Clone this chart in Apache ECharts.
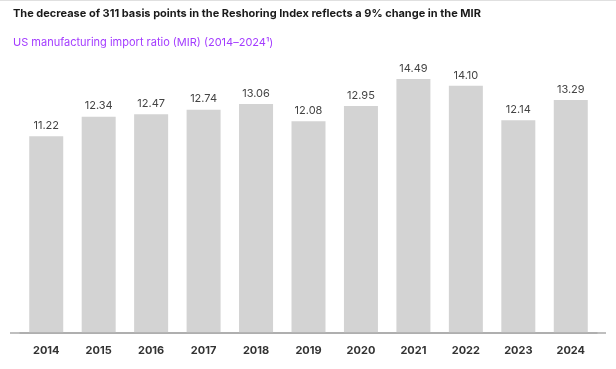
<!DOCTYPE html>
<html><head><meta charset="utf-8">
<script src="https://cdn.jsdelivr.net/npm/echarts@6/dist/echarts.min.js"></script>
<style>html,body{margin:0;padding:0;background:#fff}#c{width:616px;height:369px}</style>
</head><body><div id="c"></div>
<script>
const categories = ['2014','2015','2016','2017','2018','2019','2020','2021','2022','2023','2024'];
const mirValues = [11.22, 12.34, 12.47, 12.74, 13.06, 12.08, 12.95, 14.49, 14.10, 12.14, 13.29];
const titleText = 'The decrease of 311 basis points in the Reshoring Index reflects a 9% change in the MIR';
const subtitleText = 'US manufacturing import ratio (MIR) (2014\u20132024\u00b9)';

const chart = echarts.init(document.getElementById('c'), null, {renderer: 'canvas'});
chart.setOption({
  animation: false,
  backgroundColor: '#fff',
  title: [
    {text: titleText, left: 8, top: 3, textStyle: {fontFamily: 'Inter', fontSize: 11, fontWeight: 'bold', color: '#1a1a1a', letterSpacing: -0.65}},
    {text: subtitleText, left: 8, top: 32, textStyle: {fontFamily: 'Inter', fontSize: 11, fontWeight: 'normal', color: '#a33bff', letterSpacing: -0.5}}
  ],
  graphic: [
    {type: 'line', shape: {x1: 0, y1: 0.5, x2: 616, y2: 0.5}, style: {stroke: '#e0e0e0', lineWidth: 1}},
    {type: 'line', shape: {x1: 10, y1: 333, x2: 606, y2: 333}, style: {stroke: '#aaaaaa', lineWidth: 1.5}, z: 10}
  ],
  grid: {left: 20, right: 19, top: 70, bottom: 36},
  xAxis: {
    type: 'category', data: categories,
    axisLine: {show: true, lineStyle: {color: '#aaaaaa', width: 1.5}},
    axisTick: {show: false},
    axisLabel: {fontFamily: 'Inter', fontSize: 11, fontWeight: 'bold', color: '#333', margin: 12}
  },
  yAxis: {type: 'value', min: 0, max: 15, show: false, splitLine: {show: false}},
  series: [{
    type: 'bar', data: mirValues, barWidth: 34,
    itemStyle: {color: '#d3d3d3'},
    label: {show: true, position: 'top', distance: 5, formatter: p => p.value.toFixed(2),
      fontFamily: 'Inter', fontSize: 11, color: '#444'}
  }]
});
</script></body></html>
